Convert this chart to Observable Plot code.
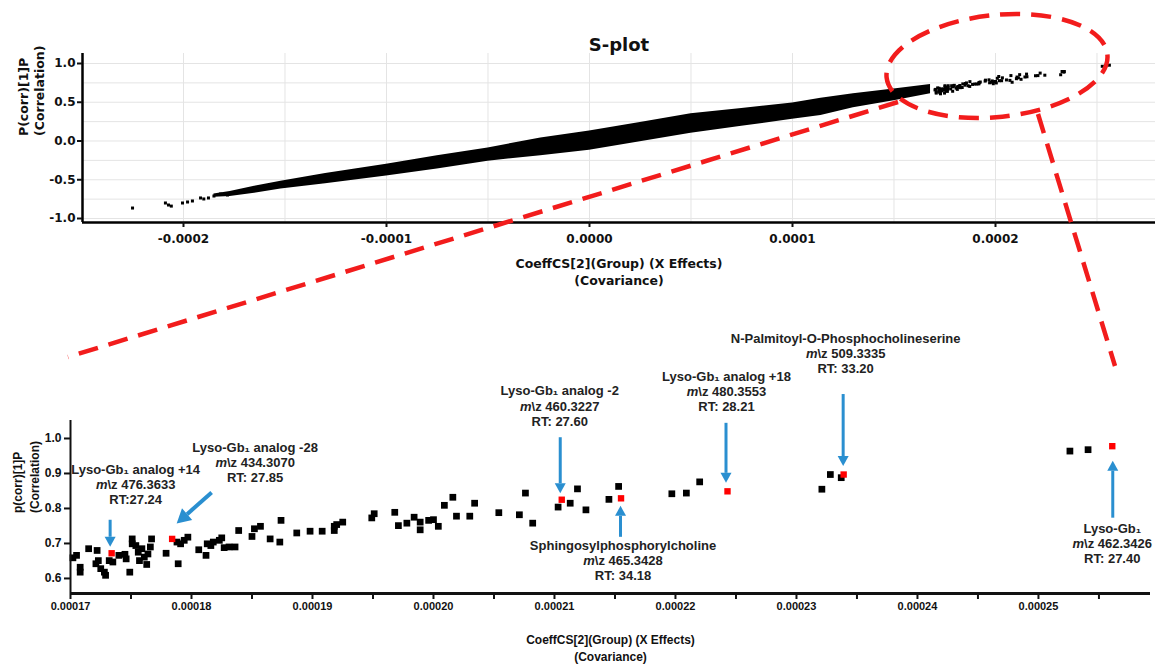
<!DOCTYPE html>
<html>
<head>
<meta charset="utf-8">
<script src="https://cdn.jsdelivr.net/npm/d3@7"></script>
<script src="https://cdn.jsdelivr.net/npm/@observablehq/plot@0.6"></script>
<style>
  body { margin: 0; background: #fff; }
  #wrap { position: relative; width: 1155px; height: 664px; overflow: hidden; background: #fff; }
  #top { position: absolute; left: 0; top: 0; }
  #bottom { position: absolute; left: 0; top: 330px; }
  #overlay { position: absolute; left: 0; top: 0; pointer-events: none; }
</style>
</head>
<body>
<div id="wrap"><div id="top"></div><div id="bottom"></div></div>
<script>
// ---------------- DATA ----------------
// S-plot: dense central band (lower / upper edge of the point cloud)
const bandX    = [-0.000185, -0.000177, -0.000165, -0.000152, -0.00013, -0.0001, -0.000075, -0.00005, -0.000024, 0, 0.000025, 0.00005, 0.000075, 0.0001, 0.000114, 0.00013, 0.00015, 0.000168];
const bandLow  = [-0.725, -0.715, -0.675, -0.62, -0.55, -0.45, -0.36, -0.26, -0.19, -0.12, -0.01, 0.10, 0.19, 0.28, 0.33, 0.43, 0.52, 0.61];
const bandHigh = [-0.685, -0.65, -0.585, -0.52, -0.42, -0.30, -0.19, -0.09, 0.04, 0.13, 0.24, 0.35, 0.42, 0.49, 0.55, 0.61, 0.67, 0.73];

// S-plot: isolated points of the negative tail
const leftTailX = [-0.0002251, -0.0002089, -0.0002074, -0.000206, -0.0002005, -0.000198, -0.0001956, -0.0001916, -0.00019, -0.0001877, -0.000185, -0.0001818, -0.0001783];
const leftTailY = [-0.865, -0.80, -0.826, -0.84, -0.80, -0.787, -0.774, -0.735, -0.748, -0.735, -0.71, -0.684, -0.697];

// Zoomed region (covariance >= 0.00017): unannotated features
const zoomX = [0.0001702, 0.0001705, 0.0001708, 0.0001708, 0.0001715, 0.0001722, 0.0001721, 0.0001723, 0.0001725, 0.0001728, 0.0001729, 0.0001732, 0.0001735, 0.000174, 0.0001745, 0.0001746, 0.0001749, 0.0001751, 0.0001751, 0.0001754, 0.0001756, 0.0001757, 0.0001759, 0.0001761, 0.0001763, 0.0001764, 0.0001766, 0.0001767, 0.0001779, 0.0001788, 0.0001789, 0.0001791, 0.0001794, 0.0001797, 0.0001806, 0.0001812, 0.0001813, 0.0001816, 0.0001818, 0.0001823, 0.0001825, 0.0001827, 0.0001831, 0.0001836, 0.0001839, 0.000185, 0.0001852, 0.0001857, 0.0001865, 0.0001873, 0.0001874, 0.0001887, 0.0001898, 0.0001908, 0.0001918, 0.0001918, 0.000192, 0.0001925,
  0.0001949, 0.0001951, 0.0001968, 0.0001971, 0.0001978, 0.0001984, 0.0001989, 0.0001989, 0.0001996, 0.00020, 0.0002004, 0.0002009, 0.0002016, 0.0002019, 0.000203, 0.0002034, 0.0002054, 0.0002071, 0.0002076, 0.0002082, 0.0002103, 0.0002113, 0.0002119, 0.0002126, 0.0002145, 0.0002153,
  0.0002197, 0.0002209, 0.000222, 0.0002321, 0.0002328, 0.0002337, 0.0002526, 0.0002541];
const zoomY = [0.659, 0.666, 0.632, 0.618, 0.685, 0.68, 0.642, 0.651, 0.628, 0.618, 0.609, 0.651, 0.647, 0.666, 0.669, 0.656, 0.618, 0.713, 0.699, 0.694, 0.675, 0.651, 0.685, 0.661, 0.64, 0.67, 0.69, 0.713, 0.672, 0.704, 0.642, 0.699, 0.709, 0.718, 0.682, 0.666, 0.699, 0.694, 0.704, 0.709, 0.716, 0.688, 0.69, 0.69, 0.737, 0.72, 0.742, 0.749, 0.713, 0.704, 0.766, 0.73, 0.735, 0.735, 0.737, 0.749, 0.754, 0.761,
  0.773, 0.785, 0.789, 0.751, 0.758, 0.775, 0.761, 0.739, 0.766, 0.768, 0.749, 0.809, 0.832, 0.778, 0.778, 0.815, 0.788, 0.782, 0.844, 0.758, 0.804, 0.815, 0.856, 0.796, 0.826, 0.863,
  0.842, 0.844, 0.876, 0.855, 0.897, 0.888, 0.964, 0.968];

// Annotated (red) features
const markerNames = ["Lyso-Gb\u2081 analog +14", "Lyso-Gb\u2081 analog -28", "Lyso-Gb\u2081 analog -2", "Sphingosylphosphorylcholine", "Lyso-Gb\u2081 analog +18", "N-Palmitoyl-O-Phosphocholineserine", "Lyso-Gb\u2081"];
const markerMz    = ["476.3633", "434.3070", "460.3227", "465.3428", "480.3553", "509.3335", "462.3426"];
const markerRT    = ["RT:27.24", "RT: 27.85", "RT: 27.60", "RT: 34.18", "RT: 28.21", "RT: 33.20", "RT: 27.40"];
const markerX     = [0.0001734, 0.0001784, 0.0002106, 0.0002155, 0.0002243, 0.0002339, 0.0002561];
const markerY     = [0.672, 0.713, 0.825, 0.829, 0.849, 0.897, 0.978];

// Ticks and labels
const topXTicks = [-0.0002, -0.0001, 0, 0.0001, 0.0002];
const topYTicks = [-1, -0.5, 0, 0.5, 1];
const topGridX = [-0.0002, -0.00015, -0.0001, -0.00005, 0, 0.00005, 0.0001, 0.00015, 0.0002, 0.00025];
const topGridY = [-1, -0.75, -0.5, -0.25, 0, 0.25, 0.5, 0.75, 1];
const bottomXTicks = [0.00017, 0.00018, 0.00019, 0.0002, 0.00021, 0.00022, 0.00023, 0.00024, 0.00025];
const bottomXMinor = [0.000175, 0.000185, 0.000195, 0.000205, 0.000215, 0.000225, 0.000235, 0.000245, 0.000255];
const bottomYTicks = [0.6, 0.7, 0.8, 0.9, 1.0];

const topTitle = "S-plot";
const xTitle = "CoeffCS[2](Group) (X Effects)\n(Covariance)";
const topYTitle = "P(corr)[1]P\n(Correlation)";
const bottomYTitle = "p(corr)[1]P\n(Correlation)";

// ---------------- LAYOUT (styling only) ----------------
const textOffsets  = [[24, -69], [83, -77], [-2, -94], [2, 62], [-1, -100], [2, -121], [0, 97]];
const arrowOffsets = [
  {from: [-1, -33], to: [-1, -6], head: 10},
  {from: [40, -46], to: [5, -15], head: 14},
  {from: [-1, -62], to: [-1, -6], head: 10},
  {from: [0, 39], to: [0, 8], head: 10},
  {from: [-1, -68], to: [-1, -8], head: 10},
  {from: [0, -80], to: [0, -8], head: 10},
  {from: [1, 72], to: [1, 15], head: 10}
];
const BLUE = "#2a8fd0";
const RED = "#f21c1c";

// ---------------- BUILD ----------------
const band = bandX.map((x, i) => ({x, lo: bandLow[i], hi: bandHigh[i]}));
const leftTail = leftTailX.map((x, i) => ({x, y: leftTailY[i]}));
const zoomPts = zoomX.map((x, i) => ({x, y: zoomY[i]}));
const markers = markerX.map((x, i) => ({x, y: markerY[i], name: markerNames[i], mz: markerMz[i], rt: markerRT[i]}));

const topXDomain = [-0.00024975, 0.00027882];
const topYDomain = [-1.0516, 1.129];

const topPlot = Plot.plot({
  width: 1155, height: 300,
  marginLeft: 82, marginRight: 0, marginTop: 53, marginBottom: 78,
  x: {domain: topXDomain},
  y: {domain: topYDomain},
  style: {fontFamily: "DejaVu Sans", fontSize: "12px", color: "#111", background: "transparent"},
  marks: [
    Plot.gridX(topGridX, {stroke: "#e4e4e4", strokeOpacity: 1, strokeWidth: 1}),
    Plot.gridY(topGridY, {stroke: "#e4e4e4", strokeOpacity: 1, strokeWidth: 1}),
    Plot.areaY(band, {x: "x", y1: "lo", y2: "hi", fill: "#000", curve: "linear"}),
    Plot.dot([...leftTail, ...zoomPts, ...markers], {x: "x", y: "y", symbol: "square", r: 1.7, fill: "#000", stroke: "none"}),
    Plot.ruleY([topYDomain[0]], {stroke: "#000", strokeWidth: 2.5}),
    Plot.ruleX([topXDomain[0]], {stroke: "#000", strokeWidth: 2.5}),
    Plot.axisX(topXTicks, {tickFormat: d => d.toFixed(4), tickSize: 5, tickPadding: 7, strokeWidth: 2, fontSize: 12, fontWeight: "bold", label: null}),
    Plot.axisY(topYTicks, {tickFormat: d => d.toFixed(1), tickSize: 5, tickPadding: 2, strokeWidth: 2, fontSize: 12, fontWeight: "bold", label: null}),
    Plot.text([topTitle], {frameAnchor: "top", lineAnchor: "middle", dy: -8, fontSize: 18, fontWeight: "bold", fill: "#111"}),
    Plot.text([xTitle], {frameAnchor: "bottom", lineAnchor: "middle", dy: 49, fontSize: 12.5, fontWeight: "bold", lineHeight: 1.35, fill: "#111"}),
    Plot.text([topYTitle], {frameAnchor: "left", lineAnchor: "middle", dx: -52, dy: -2, rotate: -90, fontSize: 12.5, fontWeight: "bold", lineHeight: 1.3, fill: "#111"})
  ]
});
document.getElementById("top").appendChild(topPlot);

const botXDomain = [0.00017, 0.00025926];
const botYDomain = [0.557, 1.0514];

const annotationMarks = markers.map((m, i) => Plot.text([m], {
  x: "x", y: "y",
  text: d => `${d.name}\nm\\z ${d.mz}\n${d.rt}`,
  dx: textOffsets[i][0], dy: textOffsets[i][1],
  lineAnchor: "middle",
  fontFamily: "Liberation Sans, Arial, sans-serif", fontSize: 13, fontWeight: "bold", lineHeight: 1.16, fill: "#222"
}));

const bottomPlot = Plot.plot({
  width: 1155, height: 334,
  marginLeft: 70, marginRight: 5, marginTop: 90, marginBottom: 71,
  x: {domain: botXDomain},
  y: {domain: botYDomain},
  style: {fontFamily: "Liberation Sans, Arial, sans-serif", fontSize: "12px", color: "#111", background: "transparent", overflow: "visible"},
  marks: [
    Plot.dot(zoomPts, {x: "x", y: "y", symbol: "square", r: 3.8, fill: "#000", stroke: "none"}),
    Plot.dot(markers, {x: "x", y: "y", symbol: "square", r: 3.6, fill: "#ff0000", stroke: "none"}),
    Plot.ruleY([botYDomain[0]], {stroke: "#111", strokeWidth: 3}),
    Plot.ruleX([botXDomain[0]], {stroke: "#111", strokeWidth: 2}),
    Plot.axisX(bottomXTicks, {tickFormat: d => d.toFixed(5), tickSize: 6, tickPadding: 3, strokeWidth: 2, fontSize: 11, fontWeight: "bold", label: null}),
    Plot.axisX(bottomXMinor, {tickFormat: () => "", tickSize: 6, strokeWidth: 2, label: null}),
    Plot.axisY(bottomYTicks, {tickFormat: d => d.toFixed(1), tickSize: 6, tickPadding: 3, strokeWidth: 2, fontSize: 12, fontWeight: "bold", label: null}),
    Plot.text([xTitle], {frameAnchor: "bottom", lineAnchor: "middle", dy: 54, fontSize: 12, fontWeight: "bold", lineHeight: 1.4, fill: "#111"}),
    Plot.text([bottomYTitle], {frameAnchor: "left", lineAnchor: "middle", dx: -45, dy: 6, rotate: -90, fontSize: 12, fontWeight: "bold", lineHeight: 1.4, fill: "#111"}),
    ...annotationMarks
  ]
});
document.getElementById("bottom").appendChild(bottomPlot);

// italic "m" in m\z labels
d3.select(bottomPlot).selectAll("tspan").each(function () {
  const t = this.textContent;
  if (t.startsWith("m\\z")) {
    const sel = d3.select(this);
    sel.text("");
    sel.append("tspan").attr("font-style", "italic").text("m");
    sel.append("tspan").text(t.slice(1));
  }
});

// blue arrows pointing at the annotated features
(function drawArrows() {
  const sx = bottomPlot.scale("x"), sy = bottomPlot.scale("y");
  const g = d3.select(bottomPlot).append("g").attr("fill", BLUE);
  markers.forEach((m, i) => {
    const a = arrowOffsets[i];
    const px = sx.apply(m.x), py = sy.apply(m.y);
    const x1 = px + a.from[0], y1 = py + a.from[1], x2 = px + a.to[0], y2 = py + a.to[1];
    const ang = Math.atan2(y2 - y1, x2 - x1);
    const hl = a.head, hw = a.head * 0.55;
    const bx = x2 - hl * Math.cos(ang), by = y2 - hl * Math.sin(ang);
    g.append("line").attr("x1", x1).attr("y1", y1).attr("x2", bx).attr("y2", by)
      .attr("stroke", BLUE).attr("stroke-width", a.head > 12 ? 4 : 3);
    g.append("path").attr("d",
      `M${x2},${y2}L${bx - hw * Math.sin(ang)},${by + hw * Math.cos(ang)}L${bx + hw * Math.sin(ang)},${by - hw * Math.cos(ang)}Z`);
  });
})();

// red dashed zoom call-out (decoration linking the two panels)
(function drawCallout() {
  const svg = d3.select("#wrap").append("svg").attr("id", "overlay")
    .attr("width", 1155).attr("height", 664);
  const s = {stroke: RED, "stroke-width": 4.5, "stroke-dasharray": "20 11", fill: "none"};
  const e = svg.append("ellipse").attr("cx", 997).attr("cy", 66).attr("rx", 111).attr("ry", 51)
    .attr("transform", "rotate(-6 997 66)");
  const l1 = svg.append("line").attr("x1", 898).attr("y1", 102).attr("x2", 68).attr("y2", 357);
  const l2 = svg.append("line").attr("x1", 1038).attr("y1", 114).attr("x2", 1115).attr("y2", 366);
  [e, l1, l2].forEach(el => Object.entries(s).forEach(([k, v]) => el.attr(k, v)));
})();
</script>
</body>
</html>
